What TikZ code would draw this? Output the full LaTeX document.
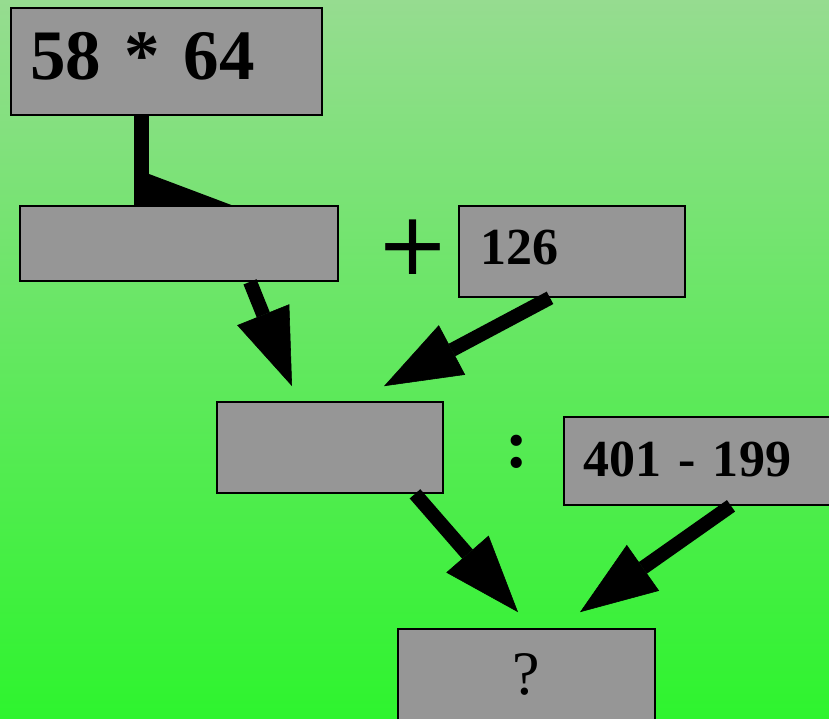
\documentclass[tikz,border=0pt]{standalone}
\usepackage{fontspec}
\setmainfont{Liberation Serif}[WordSpace=0.55]
\newfontfamily\plusfont{DejaVu Sans}
\usetikzlibrary{positioning, arrows.meta, backgrounds}

\definecolor{bgtop}{RGB}{150,220,144}
\definecolor{bgbottom}{RGB}{46,244,46}
\definecolor{boxgray}{RGB}{150,150,150}

\begin{document}
\begin{tikzpicture}[
    box/.style={rectangle, draw=black, line width=1.2pt, fill=boxgray,
                minimum width=#1, minimum height=2.275cm, inner sep=0pt},
    numbox/.style={box=#1, align=left, font=\bfseries\fontsize{37}{40}\selectfont},
    arr/.style={-{Triangle[length=1.925cm, width=1.4cm, line width=0.4pt]}, line width=10pt},
    bar/.style={line width=10.5pt},
]
\useasboundingbox (0,0) rectangle (20.725,17.95);
\clip (0,0) rectangle (20.725,17.95);

% Boxes
\node[numbox=7.775cm, minimum height=2.675cm, inner xsep=0.475cm, text width=6.825cm,
      text depth=0.275cm, font=\bfseries\fontsize{50.5}{55}\selectfont] (prod) at (4.1625, 16.4125) {58 * 64};
\node[box=7.95cm, minimum height=1.875cm] (sum) at (4.475, 11.8625) {};
\node[numbox=5.65cm, inner xsep=0.525cm, text width=4.6cm, text depth=0.2cm] (add) at (14.3, 11.6625) {126};
\node[box=5.65cm] (quot) at (8.25, 6.7625) {};
\node[numbox=7.15cm, minimum height=2.2cm, inner xsep=0.475cm, text width=6.2cm,
      text depth=0.1cm] (diff) at (17.675, 6.425) {401 - 199};
\node[box=6.425cm, font=\fontsize{44}{44}\selectfont] (result) at (13.1625, 1.0875) {?};

% Operators
\node[font=\plusfont\fontsize{62}{62}\selectfont] (plus) at (10.325, 11.775) {+};
\node[font=\bfseries\fontsize{49}{49}\selectfont] (colon) at (12.925, 6.65) {:};

% Background and the first connector under the boxes
\begin{scope}[on background layer]
\shade[top color=bgtop, bottom color=bgbottom] (0,0) rectangle (20.725,17.95);
\draw[bar] ([xshift=-0.625cm]prod.south) -- ([xshift=-0.625cm]prod.south |- sum.north);
\coordinate (wedge) at (3.725, 13.6);
\fill (wedge) -- (5.85, 12.8) -- (3.5, 12.8) -- cycle;
\end{scope}

% Arrows
\draw[arr] ([xshift=1.775cm]sum.south) -- ([xshift=-0.95cm, yshift=0.375cm]quot.north);
\draw[arr] ([xshift=-0.55cm]add.south) -- ([xshift=1.35cm, yshift=0.375cm]quot.north);
\draw[arr] ([xshift=2.125cm]quot.south) -- ([xshift=-0.2125cm, yshift=0.4cm]result.north);
\draw[arr] ([xshift=0.6cm]diff.south) -- ([xshift=1.3375cm, yshift=0.4cm]result.north);

\end{tikzpicture}
\end{document}
